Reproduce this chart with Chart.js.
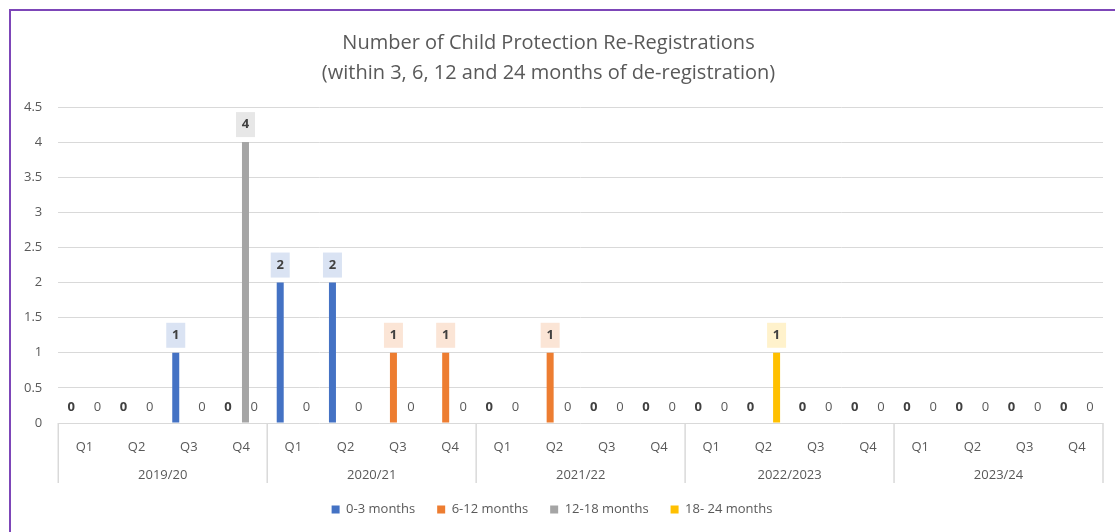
<!DOCTYPE html>
<html>
<head>
<meta charset="utf-8">
<script src="https://cdn.jsdelivr.net/npm/chart.js@4.4.1/dist/chart.umd.min.js"></script>
<style>
  body { margin: 0; background: #fff; }
  #wrap { position: relative; width: 1115px; height: 532px; overflow: hidden; }
  #frame {
    position: absolute; left: 9px; top: 9px; width: 1200px; height: 600px;
    border-left: 2px solid #7d46b8; border-top: 2px solid #7d46b8;
    pointer-events: none;
  }
</style>
</head>
<body>
<div id="wrap">
  <canvas id="reregChart" width="1115" height="532"></canvas>
  <div id="frame"></div>
</div>
<script>
// categories
const quarters = ["Q1", "Q2", "Q3", "Q4", "Q1", "Q2", "Q3", "Q4", "Q1", "Q2", "Q3", "Q4",
  "Q1", "Q2", "Q3", "Q4", "Q1", "Q2", "Q3", "Q4"];
const years = ["2019/20", "2020/21", "2021/22", "2022/2023", "2023/24"];

// series values (null = no value / no label shown)
const months0to3 = [0, 0, 1, 0, 2, 2, null, null, 0, null, 0, 0, 0, 0, 0, 0, 0, 0, 0, 0];
const months6to12 = [null, null, null, null, null, null, 1, 1, null, 1, null, null, null, null, null, null, null, null, null, null];
const months12to18 = [null, null, null, 4, null, null, null, null, null, null, null, null, null, null, null, null, null, null, null, null];
const months18to24 = [0, 0, 0, 0, 0, 0, 0, 0, 0, 0, 0, 0, 0, 1, 0, 0, 0, 0, 0, 0];

const yTicks = [0, 0.5, 1, 1.5, 2, 2.5, 3, 3.5, 4, 4.5];

const FONT = "'Open Sans', 'Noto Sans', sans-serif";

// label styles per dataset
const labelStyle = [
  { box: "#dae3f3", boldZero: true },
  { box: "#fbe5d6", boldZero: true },
  { box: "#e7e7e7", boldZero: true },
  { box: "#fff2cc", boldZero: false },
];

// data labels (no datalabels plugin offline)
const valueLabels = {
  id: "valueLabels",
  afterDatasetsDraw(chart) {
    const ctx = chart.ctx;
    const base = chart.scales.y.getPixelForValue(0);
    ctx.save();
    ctx.textAlign = "center";
    ctx.textBaseline = "middle";
    chart.data.datasets.forEach((ds, di) => {
      const meta = chart.getDatasetMeta(di);
      const st = labelStyle[di];
      meta.data.forEach((bar, i) => {
        const v = ds.data[i];
        if (v === null || v === undefined) return;
        if (v > 0) {
          const w = 19, h = 25;
          const cy = bar.y - 5 - h / 2;
          ctx.fillStyle = st.box;
          ctx.fillRect(bar.x - w / 2, cy - h / 2, w, h);
          ctx.fillStyle = "#404040";
          ctx.font = "bold 13px " + FONT;
          ctx.fillText(String(v), bar.x, cy);
        } else {
          ctx.fillStyle = st.boldZero ? "#404040" : "#595959";
          ctx.font = (st.boldZero ? "bold " : "") + "13px " + FONT;
          ctx.fillText("0", bar.x, base - 16);
        }
      });
    });
    ctx.restore();
  },
};

// year group separators under the axis
const groupLines = {
  id: "groupLines",
  afterDraw(chart) {
    const x = chart.scales.x;
    const x2 = chart.scales.x2;
    const step = x.width / quarters.length;
    const ctx = chart.ctx;
    ctx.save();
    ctx.strokeStyle = "#d9d9d9";
    ctx.lineWidth = 1.5;
    for (let k = 0; k <= years.length; k++) {
      const px = x.left + k * 4 * step;
      ctx.beginPath();
      ctx.moveTo(px, chart.chartArea.bottom);
      ctx.lineTo(px, x2.bottom + 2);
      ctx.stroke();
    }
    ctx.restore();
  },
};

// title and legend sit a little left of centre in the original
const shiftBlocks = {
  id: "shiftBlocks",
  afterLayout(chart) {
    chart.titleBlock.left -= 7;
    chart.titleBlock.right -= 7;
    chart.legend.left -= 3.5;
    chart.legend.right -= 3.5;
    if (chart.legend.legendHitBoxes) {
      chart.legend.legendHitBoxes.forEach(b => { b.left -= 3.5; });
    }
  },
};

const ctx = document.getElementById("reregChart").getContext("2d");
new Chart(ctx, {
  type: "bar",
  data: {
    labels: quarters,
    datasets: [
      { label: "0-3 months", data: months0to3, backgroundColor: "#4472c4" },
      { label: "6-12 months", data: months6to12, backgroundColor: "#ed7d31" },
      { label: "12-18 months", data: months12to18, backgroundColor: "#a5a5a5" },
      { label: "18- 24 months", data: months18to24, backgroundColor: "#ffc000" },
    ],
  },
  options: {
    responsive: false,
    animation: false,
    categoryPercentage: 0.67,
    barPercentage: 0.8,
    layout: { padding: { left: 8, right: 12, top: 0, bottom: 6 } },
    plugins: {
      title: {
        display: true,
        text: ["Number of Child Protection Re-Registrations", "(within 3, 6, 12 and 24 months of de-registration)"],
        color: "#595959",
        font: { family: FONT, size: 20, weight: "normal", lineHeight: 1.5 },
        padding: { top: 28, bottom: 19 },
      },
      legend: {
        position: "bottom",
        labels: {
          boxWidth: 8,
          boxHeight: 8,
          padding: 22,
          color: "#595959",
          font: { family: FONT, size: 13 },
        },
      },
      tooltip: { enabled: false },
    },
    scales: {
      x: {
        grid: { display: false },
        border: { display: false },
        ticks: { color: "#595959", font: { family: FONT, size: 13 }, padding: 8, maxRotation: 0, autoSkip: false },
        afterFit(scale) { scale.height = 30; },
      },
      x2: {
        type: "category",
        labels: years,
        position: "bottom",
        offset: true,
        grid: { display: false },
        border: { display: false },
        ticks: { color: "#595959", font: { family: FONT, size: 13 }, padding: 6, maxRotation: 0 },
        afterFit(scale) { scale.height = 28; },
      },
      y: {
        min: 0,
        max: 4.5,
        afterBuildTicks(scale) {
          scale.ticks = yTicks.map(v => ({ value: v }));
        },
        grid: { color: "#d9d9d9", drawTicks: false },
        border: { display: false },
        ticks: {
          color: "#595959",
          font: { family: FONT, size: 13 },
          padding: 16,
          callback: v => String(v),
        },
      },
    },
  },
  plugins: [valueLabels, groupLines, shiftBlocks],
});
</script>
</body>
</html>
